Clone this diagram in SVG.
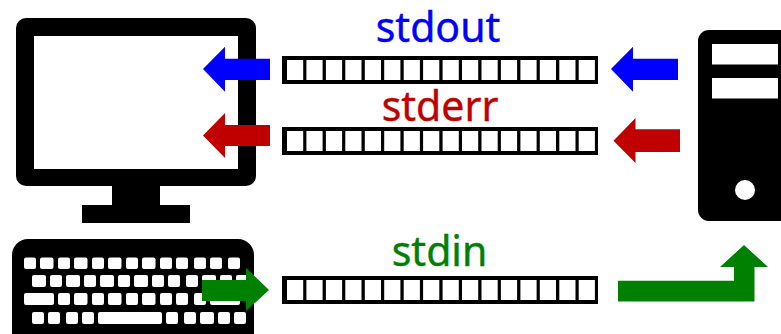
<svg xmlns="http://www.w3.org/2000/svg" width="781" height="334" viewBox="0 0 781 334">
<style>
text{font-family:"Noto Sans","Open Sans",sans-serif;font-size:41px;text-anchor:middle;stroke-width:.4px}
.k{fill:#fff}
.b{fill:#00f}.r{fill:#c00000}.g{fill:#008000}
text.b{stroke:#00f}text.r{stroke:#c00000}text.g{stroke:#008000}
</style>
<defs>
<g id="bar">
<rect x="0" y="0" width="316" height="28" fill="#000"/>
<rect class="k" x="5" y="4" width="16.2" height="20"/><rect class="k" x="24.4" y="4" width="16.2" height="20"/><rect class="k" x="43.9" y="4" width="16.2" height="20"/><rect class="k" x="63.3" y="4" width="16.2" height="20"/><rect class="k" x="82.8" y="4" width="16.2" height="20"/><rect class="k" x="102.2" y="4" width="16.2" height="20"/><rect class="k" x="121.7" y="4" width="16.2" height="20"/><rect class="k" x="141.1" y="4" width="16.2" height="20"/><rect class="k" x="160.6" y="4" width="16.2" height="20"/><rect class="k" x="180" y="4" width="16.2" height="20"/><rect class="k" x="199.5" y="4" width="16.2" height="20"/><rect class="k" x="218.9" y="4" width="16.2" height="20"/><rect class="k" x="238.4" y="4" width="16.2" height="20"/><rect class="k" x="257.8" y="4" width="16.2" height="20"/><rect class="k" x="277.3" y="4" width="16.2" height="20"/><rect class="k" x="296.7" y="4" width="16.2" height="20"/>
</g>
</defs>
<rect width="781" height="334" fill="#fff"/>
<g id="monitor">
<path fill-rule="evenodd" d="M26 18H246a10 10 0 0 1 10 10V176a10 10 0 0 1-10 10H160V205H190V223H82V205H112V186H26a10 10 0 0 1-10-10V28a10 10 0 0 1 10-10ZM34 36V169H238V36Z"/>
</g>
<g id="keyboard">
<rect x="12" y="239" width="242" height="110" rx="16"/>
<g class="k">
<rect x="24" y="257.500" width="12" height="11.500" rx="2"/><rect x="40" y="257.500" width="13.500" height="11.500" rx="2"/><rect x="58" y="257.500" width="12" height="11.500" rx="2"/><rect x="74" y="257.500" width="13.500" height="11.500" rx="2"/><rect x="92" y="257.500" width="12" height="11.500" rx="2"/><rect x="108" y="257.500" width="13.500" height="11.500" rx="2"/><rect x="126" y="257.500" width="12" height="11.500" rx="2"/><rect x="142" y="257.500" width="13.500" height="11.500" rx="2"/><rect x="160" y="257.500" width="12" height="11.500" rx="2"/><rect x="176" y="257.500" width="12" height="11.500" rx="2"/><rect x="194" y="257.500" width="12" height="11.500" rx="2"/><rect x="210" y="257.500" width="12" height="11.500" rx="2"/><rect x="228" y="257.500" width="12" height="11.500" rx="2"/>
<rect x="32" y="275" width="14" height="12" rx="2"/><rect x="50" y="275" width="12" height="12" rx="2"/><rect x="66" y="275" width="14" height="12" rx="2"/><rect x="84" y="275" width="12" height="12" rx="2"/><rect x="100" y="275" width="14" height="12" rx="2"/><rect x="118" y="275" width="12" height="12" rx="2"/><rect x="134" y="275" width="14" height="12" rx="2"/><rect x="152" y="275" width="12" height="12" rx="2"/><rect x="168" y="275" width="12" height="12" rx="2"/><rect x="186" y="275" width="12" height="12" rx="2"/><rect x="202" y="275" width="14" height="12" rx="2"/><rect x="220" y="275" width="12" height="12" rx="2"/><rect x="236" y="275" width="12" height="12" rx="2"/>
<rect x="24" y="293" width="30" height="12" rx="2"/><rect x="58" y="293" width="12" height="12" rx="2"/><rect x="74" y="293" width="13.500" height="12" rx="2"/><rect x="92" y="293" width="12" height="12" rx="2"/><rect x="108" y="293" width="13.500" height="12" rx="2"/><rect x="126" y="293" width="12" height="12" rx="2"/><rect x="142" y="293" width="13.500" height="12" rx="2"/><rect x="160" y="293" width="12" height="12" rx="2"/><rect x="176" y="293" width="12" height="12" rx="2"/><rect x="194" y="293" width="12" height="12" rx="2"/><rect x="210" y="293" width="30" height="12" rx="2"/>
<rect x="32" y="312" width="12" height="12" rx="2"/><rect x="48" y="312" width="12" height="12" rx="2"/><rect x="66" y="312" width="12" height="12" rx="2"/><rect x="82" y="312" width="12" height="12" rx="2"/><rect x="98" y="312" width="64" height="12" rx="2"/><rect x="166" y="312" width="12" height="12" rx="2"/><rect x="184" y="312" width="12" height="12" rx="2"/><rect x="200" y="312" width="14" height="12" rx="2"/><rect x="218" y="312" width="12" height="12" rx="2"/><rect x="234" y="312" width="12" height="12" rx="2"/>
</g>
</g>
<g id="server">
<rect x="698" y="30" width="100" height="191" rx="11"/>
<rect class="k" x="712" y="44" width="66" height="20.500"/>
<rect class="k" x="712" y="78" width="66" height="20.500"/>
<circle class="k" cx="745" cy="190" r="10"/>
</g>
<g id="stdout-buffer">
<use href="#bar" x="282" y="56"/>
<text class="b" x="438" y="42">stdout</text>
</g>
<g id="stderr-buffer">
<use href="#bar" x="282" y="127"/>
<text class="r" x="440" y="121">stderr</text>
</g>
<g id="stdin-buffer">
<use href="#bar" x="282" y="276"/>
<text class="g" x="439.500" y="265.500">stdin</text>
</g>
<g id="connectors">
<path class="b" d="M678 58.700V80H633V91.700L611 69L633 46.700V58.700Z"/>
<path class="b" d="M270 58.700V80H225V91.700L203 69L225 46.700V58.700Z"/>
<path class="r" d="M680 129.300V152H635.500V163L613.500 140.700L635.500 118V129.300Z"/>
<path class="r" d="M270 125V146H225V158L203 135.500L225 113V125Z"/>
<path class="g" d="M202 280H246V267.700L269 290L246 311V301H202Z"/>
<path class="g" d="M618 280.700H734V267H720L744 245L768 267H754.500V301.500H618Z"/>
</g>
</svg>
